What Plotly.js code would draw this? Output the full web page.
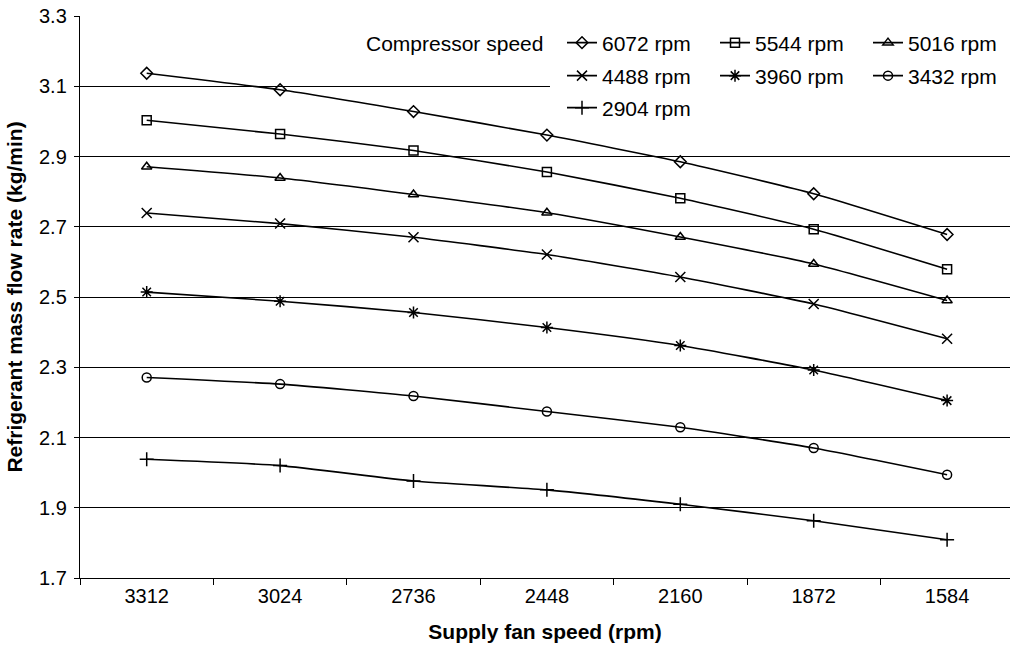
<!DOCTYPE html>
<html>
<head>
<meta charset="utf-8">
<script src="https://cdn.plot.ly/plotly-3.0.1.min.js"></script>
<style>html,body{margin:0;padding:0;background:#fff;}#chart{width:1010px;height:654px;}</style>
</head>
<body>
<div id="chart"></div>
<script>
// Supply fan speed categories (rpm)
const fanSpeeds = ["3312", "3024", "2736", "2448", "2160", "1872", "1584"];

// Refrigerant mass flow rate (kg/min) for each compressor speed
const rpm6072 = [3.137, 3.090, 3.028, 2.961, 2.885, 2.794, 2.678];
const rpm5544 = [3.003, 2.964, 2.917, 2.856, 2.781, 2.693, 2.579];
const rpm5016 = [2.871, 2.839, 2.792, 2.740, 2.671, 2.594, 2.490];
const rpm4488 = [2.739, 2.709, 2.670, 2.621, 2.557, 2.480, 2.381];
const rpm3960 = [2.514, 2.488, 2.456, 2.413, 2.362, 2.292, 2.205];
const rpm3432 = [2.271, 2.252, 2.218, 2.174, 2.129, 2.070, 1.994];
const rpm2904 = [2.038, 2.020, 1.976, 1.951, 1.910, 1.863, 1.809];

const seriesNames = ["6072 rpm", "5544 rpm", "5016 rpm", "4488 rpm", "3960 rpm", "3432 rpm", "2904 rpm"];
const seriesValues = [rpm6072, rpm5544, rpm5016, rpm4488, rpm3960, rpm3432, rpm2904];
const yTickVals = [1.7, 1.9, 2.1, 2.3, 2.5, 2.7, 2.9, 3.1, 3.3];
const yTickText = ["1.7", "1.9", "2.1", "2.3", "2.5", "2.7", "2.9", "3.1", "3.3"];

const symbols = ["diamond-open", "square-open", "triangle-up-open", "x-thin-open", "asterisk-open", "circle-open", "cross-thin-open"];
const sizes = [9, 9, 9, 10, 10, 9, 10];

const FONT = "Liberation Sans, Arial, Helvetica, sans-serif";
const FS = 21;
const W = 1010, H = 654;
const M = {l: 80, r: 0, t: 16, b: 76, autoexpand: false};
const pw = W - M.l - M.r, ph = H - M.t - M.b;
const CAT_PX = 133.4;
const px2x = p => (p - M.l) / pw;
const px2y = p => (H - M.b - p) / ph;
const px2cat = p => (p - M.l) / CAT_PX - 0.5;

// legend grid: line-start pixel of each column, centre pixel of each row
const colPx = [565, 718, 871];
const rowPx = [43, 76, 108];
const legendKey = i => (i === 0 ? "legend" : "legend" + (i + 1));

const traces = seriesNames.map((n, i) => ({
  type: "scatter",
  mode: "lines+markers",
  x: fanSpeeds,
  y: seriesValues[i],
  name: n,
  legend: legendKey(i),
  line: {color: "#000", width: 1.6, shape: "spline", smoothing: 0.5},
  marker: {symbol: symbols[i], size: sizes[i], color: "#000", line: {color: "#000", width: 1.5}},
  hoverinfo: "x+y+name"
}));

const layout = {
  width: W, height: H,
  margin: M,
  paper_bgcolor: "#fff",
  plot_bgcolor: "#fff",
  font: {family: FONT, color: "#000", size: FS},
  showlegend: true,
  xaxis: {
    type: "category",
    range: [-0.5, -0.5 + pw / CAT_PX],
    showline: true, linecolor: "#000", linewidth: 1.2,
    ticks: "outside", tickson: "boundaries", ticklen: 6, tickcolor: "#000", tickwidth: 1,
    showgrid: false, zeroline: false,
    tickfont: {family: FONT, size: FS - 1, color: "#000"},
    title: {text: "Supply fan speed (rpm)", font: {family: FONT, size: FS, color: "#000", weight: "bold"}, standoff: 18},
    fixedrange: true
  },
  yaxis: {
    range: [1.7, 3.3],
    tickvals: yTickVals, ticktext: yTickText,
    showline: true, linecolor: "#000", linewidth: 1.2,
    ticks: "outside", ticklen: 5, tickcolor: "#000", tickwidth: 1,
    ticklabelstandoff: 3,
    showgrid: true, gridcolor: "#000", gridwidth: 1,
    zeroline: false,
    tickfont: {family: FONT, size: FS - 1, color: "#000"},
    title: {text: "Refrigerant mass flow rate (kg/min)", font: {family: FONT, size: FS, color: "#000", weight: "bold"}, standoff: 10},
    fixedrange: true
  },
  annotations: [{
    xref: "paper", yref: "paper",
    x: px2x(545), y: px2y(43),
    xanchor: "right", yanchor: "middle",
    text: "Compressor speed", showarrow: false,
    font: {family: FONT, size: FS, color: "#000"}
  }],
  shapes: [{
    type: "rect", layer: "between",
    xref: "x", yref: "y",
    x0: px2cat(550), x1: px2cat(1015),
    y0: 3.06, y1: 3.14,
    fillcolor: "#fff", line: {width: 0}
  }]
};

seriesNames.forEach((n, i) => {
  const row = Math.floor(i / 3), col = i % 3;
  layout[legendKey(i)] = {
    orientation: "h",
    xanchor: "left",
    yanchor: "middle",
    x: px2x(colPx[col] - 3),
    y: px2y(rowPx[row]),
    bgcolor: "rgba(255,255,255,0)",
    borderwidth: 0,
    font: {family: FONT, size: FS, color: "#000"},
    itemwidth: 30
  };
});

Plotly.newPlot("chart", traces, layout, {displayModeBar: false, staticPlot: true});
</script>
</body>
</html>
